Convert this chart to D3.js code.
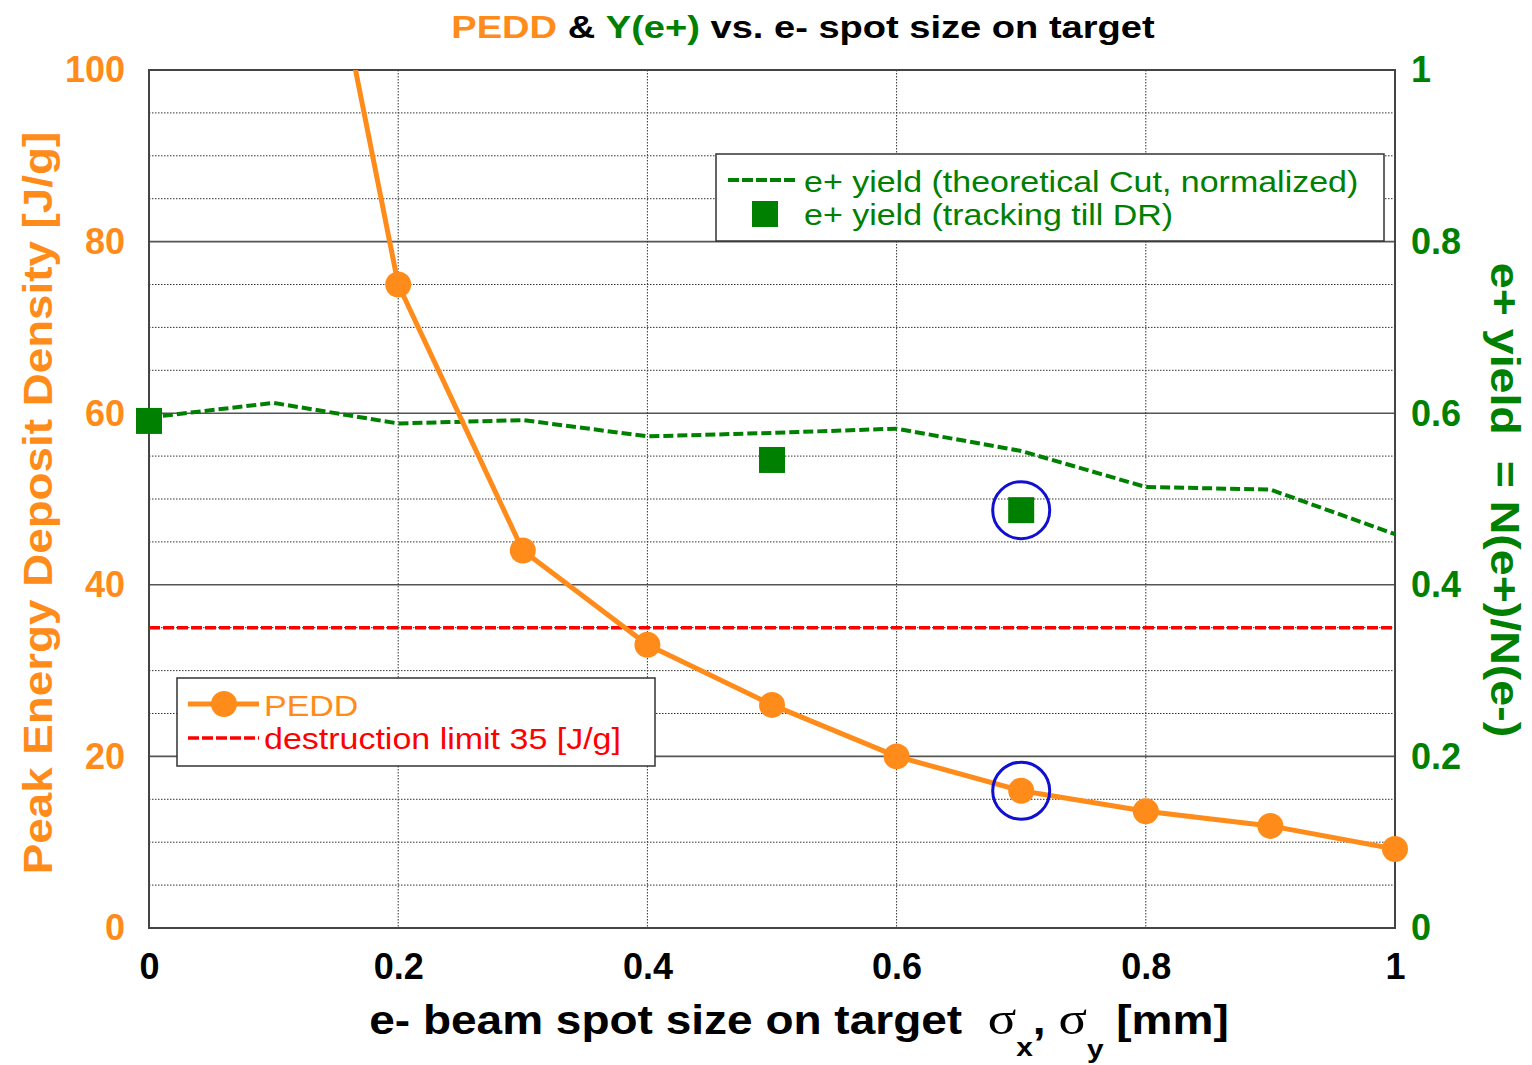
<!DOCTYPE html>
<html>
<head>
<meta charset="utf-8">
<script src="https://cdn.jsdelivr.net/npm/d3@7"></script>
<style>
  html, body { margin: 0; padding: 0; background: #fff; }
  svg { display: block; font-family: "Liberation Sans", Arial, Helvetica, sans-serif; }
</style>
</head>
<body>
<svg id="chart" width="1532" height="1065"></svg>
<script>
// Spot size sigma_x = sigma_y [mm]
const peddSpot = [0.1, 0.2, 0.3, 0.4, 0.5, 0.6, 0.7, 0.8, 0.9, 1.0];
// Peak energy deposit density [J/g]
const peddValues = [148, 75, 44, 33, 26, 20, 16, 13.6, 11.9, 9.2];

// Theoretical positron yield (normalized)
const yieldSpot = [0, 0.1, 0.2, 0.3, 0.4, 0.5, 0.6, 0.7, 0.8, 0.9, 1.0];
const yieldTheory = [0.595, 0.612, 0.588, 0.592, 0.573, 0.577, 0.582, 0.556, 0.514, 0.511, 0.459];

// Positron yield from tracking till DR
const trackSpot = [0, 0.5, 0.7];
const trackYield = [0.591, 0.5455, 0.487];

// Destruction limit [J/g]
const destructionLimit = 35;

// Highlighted spot size
const highlightSpot = 0.7;

const xTicks = [0, 0.2, 0.4, 0.6, 0.8, 1];
const xTickLabels = ["0", "0.2", "0.4", "0.6", "0.8", "1"];
const leftTicks = [0, 20, 40, 60, 80, 100];
const rightTicks = [0, 0.2, 0.4, 0.6, 0.8, 1];
const rightTickLabels = ["0", "0.2", "0.4", "0.6", "0.8", "1"];

const ORANGE = "#ff8c1a";
const GREEN = "#008000";
const RED = "#ff0000";
const BLUE = "#1010d0";

const svg = d3.select("#chart");
const plot = { left: 149, right: 1395, top: 70, bottom: 928 };

const x = d3.scaleLinear().domain([0, 1]).range([plot.left, plot.right]);
const yL = d3.scaleLinear().domain([0, 100]).range([plot.bottom, plot.top]);
const yR = d3.scaleLinear().domain([0, 1]).range([plot.bottom, plot.top]);

svg.append("defs").append("clipPath").attr("id", "plotClip")
  .append("rect")
  .attr("x", plot.left).attr("y", plot.top)
  .attr("width", plot.right - plot.left).attr("height", plot.bottom - plot.top);

// Grid: solid at major ticks, dotted at every 5 J/g
const grid = svg.append("g");
d3.range(5, 100, 5).forEach(v => {
  const major = v % 20 === 0;
  grid.append("line")
    .attr("x1", plot.left).attr("x2", plot.right)
    .attr("y1", yL(v)).attr("y2", yL(v))
    .attr("stroke", major ? "#555" : "#333")
    .attr("stroke-width", major ? 1.6 : 1)
    .attr("stroke-dasharray", major ? null : "1.5,1.5");
});
xTicks.slice(1, -1).forEach(v => {
  grid.append("line")
    .attr("x1", x(v)).attr("x2", x(v))
    .attr("y1", plot.top).attr("y2", plot.bottom)
    .attr("stroke", "#333").attr("stroke-width", 1)
    .attr("stroke-dasharray", "1.5,1.5");
});

// Legend boxes (white, drawn over the grid)
const legTop = svg.append("g");
legTop.append("rect")
  .attr("x", 716).attr("y", 154).attr("width", 668).attr("height", 87)
  .attr("fill", "#fff").attr("stroke", "#333").attr("stroke-width", 1.5);
const legBot = svg.append("g");
legBot.append("rect")
  .attr("x", 177).attr("y", 678).attr("width", 478).attr("height", 88)
  .attr("fill", "#fff").attr("stroke", "#333").attr("stroke-width", 1.5);

// Frame
svg.append("rect")
  .attr("x", plot.left).attr("y", plot.top)
  .attr("width", plot.right - plot.left).attr("height", plot.bottom - plot.top)
  .attr("fill", "none").attr("stroke", "#444").attr("stroke-width", 2);

const marks = svg.append("g").attr("clip-path", "url(#plotClip)");

// Destruction limit
marks.append("line")
  .attr("x1", x(0)).attr("x2", x(1))
  .attr("y1", yL(destructionLimit)).attr("y2", yL(destructionLimit))
  .attr("stroke", RED).attr("stroke-width", 3.5)
  .attr("stroke-dasharray", "11,3");

// Theoretical yield
const yieldData = yieldSpot.map((s, i) => [s, yieldTheory[i]]);
marks.append("path")
  .datum(yieldData)
  .attr("fill", "none").attr("stroke", GREEN).attr("stroke-width", 4)
  .attr("stroke-dasharray", "10,4")
  .attr("d", d3.line().x(d => x(d[0])).y(d => yR(d[1])));

// PEDD
const peddData = peddSpot.map((s, i) => [s, peddValues[i]]);
marks.append("path")
  .datum(peddData)
  .attr("fill", "none").attr("stroke", ORANGE).attr("stroke-width", 5)
  .attr("stroke-linejoin", "round")
  .attr("d", d3.line().x(d => x(d[0])).y(d => yL(d[1])));

const SQ = 26;
// Tracking yield squares
svg.append("g").selectAll("rect")
  .data(trackSpot.map((s, i) => [s, trackYield[i]]))
  .join("rect")
  .attr("x", d => x(d[0]) - SQ / 2).attr("y", d => yR(d[1]) - SQ / 2)
  .attr("width", SQ).attr("height", SQ)
  .attr("fill", GREEN);

svg.append("g").selectAll("circle")
  .data(peddData.filter(d => d[1] <= 100))
  .join("circle")
  .attr("cx", d => x(d[0])).attr("cy", d => yL(d[1]))
  .attr("r", 13).attr("fill", ORANGE);

// Highlight rings at the selected spot size
const hiPedd = peddValues[peddSpot.indexOf(highlightSpot)];
const hiTrack = trackYield[trackSpot.indexOf(highlightSpot)];
[[x(highlightSpot), yL(hiPedd)], [x(highlightSpot), yR(hiTrack)]].forEach(p => {
  svg.append("circle")
    .attr("cx", p[0]).attr("cy", p[1]).attr("r", 28.5)
    .attr("fill", "none").attr("stroke", BLUE).attr("stroke-width", 3);
});

// Axes (labels only)
const tickFont = g => g.selectAll("text").attr("font-size", 36).attr("font-weight", "bold")
  .attr("font-family", "'Liberation Sans', Arial, sans-serif");

const axB = svg.append("g").attr("transform", `translate(0,${plot.bottom})`)
  .call(d3.axisBottom(x).tickValues(xTicks).tickFormat((d, i) => xTickLabels[i]).tickSize(0).tickPadding(22));
axB.select(".domain").remove();
axB.call(tickFont);
axB.selectAll("text").attr("fill", "#000").attr("dy", null).attr("y", 51);

const axL = svg.append("g").attr("transform", `translate(${plot.left},0)`)
  .call(d3.axisLeft(yL).tickValues(leftTicks).tickSize(0).tickPadding(24));
axL.select(".domain").remove();
axL.call(tickFont);
axL.selectAll("text").attr("fill", ORANGE).attr("dy", "0.33em");

const axR = svg.append("g").attr("transform", `translate(${plot.right},0)`)
  .call(d3.axisRight(yR).tickValues(rightTicks).tickFormat((d, i) => rightTickLabels[i]).tickSize(0).tickPadding(16));
axR.select(".domain").remove();
axR.call(tickFont);
axR.selectAll("text").attr("fill", GREEN).attr("dy", "0.33em");

// Title (slightly wide lettering)
const title = svg.append("text")
  .attr("transform", "translate(803,38) scale(1.19,1)")
  .attr("text-anchor", "middle")
  .attr("font-size", 32).attr("font-weight", "bold");
title.append("tspan").attr("fill", ORANGE).text("PEDD");
title.append("tspan").attr("fill", "#000").text(" & ");
title.append("tspan").attr("fill", GREEN).text("Y(e+)");
title.append("tspan").attr("fill", "#000").text(" vs. e- spot size on target");

// Axis titles
svg.append("text")
  .attr("transform", "translate(52,503) rotate(-90) scale(1.116,1)")
  .attr("text-anchor", "middle").attr("font-size", 41).attr("font-weight", "bold")
  .attr("fill", ORANGE).text("Peak Energy Deposit Density [J/g]");

svg.append("text")
  .attr("transform", "translate(1491,500) rotate(90) scale(1.135,1)")
  .attr("text-anchor", "middle").attr("font-size", 41).attr("font-weight", "bold")
  .attr("fill", GREEN).text("e+ yield\u00a0\u00a0= N(e+)/N(e-)");

const xt = svg.append("text")
  .attr("transform", "translate(799,1034) scale(1.15,1)")
  .attr("text-anchor", "middle")
  .attr("font-size", 40).attr("font-weight", "bold").attr("fill", "#000");
xt.append("tspan").text("e- beam spot size on target\u00a0\u00a0");
xt.append("tspan").attr("font-family", "'Liberation Serif', 'Times New Roman', serif")
  .attr("font-weight", "normal").attr("font-size", 46).text("σ");
xt.append("tspan").attr("font-size", 26).attr("dy", 22).text("x");
xt.append("tspan").attr("dy", -22).text(",\u00a0");
xt.append("tspan").attr("font-family", "'Liberation Serif', 'Times New Roman', serif")
  .attr("font-weight", "normal").attr("font-size", 46).text("σ");
xt.append("tspan").attr("font-size", 26).attr("dy", 24).text("y");
xt.append("tspan").attr("dy", -24).text("\u00a0[mm]");

// Legend text: wide lettering, anchored at its left edge
const LEG_FONT = 30, LEG_SX = 1.133;
const legendText = (g, lx, ly, color, str) =>
  g.append("text")
    .attr("transform", `translate(${lx},${ly}) scale(${LEG_SX},1)`)
    .attr("font-size", LEG_FONT).attr("fill", color).text(str);

// Legend contents: yield
legTop.append("line")
  .attr("x1", 728).attr("x2", 798).attr("y1", 180).attr("y2", 180)
  .attr("stroke", GREEN).attr("stroke-width", 4).attr("stroke-dasharray", "11,3");
legendText(legTop, 804, 192, GREEN, "e+ yield (theoretical Cut, normalized)");
legTop.append("rect")
  .attr("x", 765 - SQ / 2).attr("y", 214 - SQ / 2).attr("width", SQ).attr("height", SQ)
  .attr("fill", GREEN);
legendText(legTop, 804, 225, GREEN, "e+ yield (tracking till DR)");

// Legend contents: PEDD
legBot.append("line")
  .attr("x1", 188).attr("x2", 259).attr("y1", 704).attr("y2", 704)
  .attr("stroke", ORANGE).attr("stroke-width", 5);
legBot.append("circle").attr("cx", 224).attr("cy", 704).attr("r", 13).attr("fill", ORANGE);
legendText(legBot, 264, 716, ORANGE, "PEDD");
legBot.append("line")
  .attr("x1", 188).attr("x2", 259).attr("y1", 738).attr("y2", 738)
  .attr("stroke", RED).attr("stroke-width", 3.5).attr("stroke-dasharray", "11,3");
legendText(legBot, 264, 749, RED, "destruction limit 35 [J/g]");
</script>
</body>
</html>
